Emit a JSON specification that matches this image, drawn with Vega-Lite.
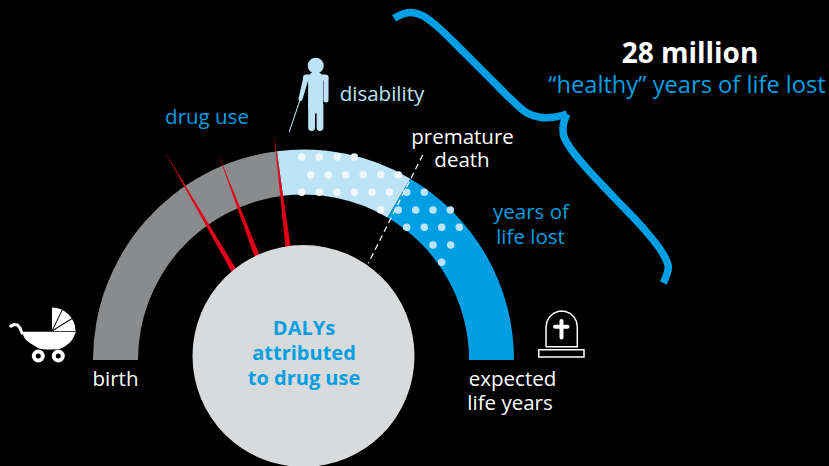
{
"$schema":"https://vega.github.io/schema/vega-lite/v6.json",
"width":829,"height":466,"padding":0,"autosize":{"type":"none"},"background":"#000000",
"config":{"view":{"stroke":null}},
"datasets":{
"arcs":[
{"part":"before","kind":"grey","x":303.5,"y":360,"t0":-90,"t1":-7.2,"r0":165.5,"r1":210.5},
{"part":"disability","kind":"sky","x":303.5,"y":360,"t0":-7.2,"t1":30.5,"r0":165.5,"r1":210.5},
{"part":"lost","kind":"blue","x":303.5,"y":360,"t0":30.5,"t1":90,"r0":165.5,"r1":210.5},
{"part":"head","kind":"sky","x":315.7,"y":65.7,"t0":-180,"t1":180,"r0":0,"r1":8},
{"part":"hood","kind":"white","x":52,"y":331,"t0":0,"t1":90,"r0":0,"r1":23.5}
],
"disc":[{"part":"disc","kind":"disc","x":303.5,"y":356,"t0":-180,"t1":180,"r0":0,"r1":111}],
"dots":[
{"kind":"pale","x":301.7,"y":157},{"kind":"pale","x":319.3,"y":157},{"kind":"pale","x":337,"y":157},{"kind":"pale","x":354.3,"y":157},
{"kind":"pale","x":310.7,"y":175},{"kind":"pale","x":328.3,"y":175},{"kind":"pale","x":345.7,"y":175},{"kind":"pale","x":363.3,"y":175},{"kind":"pale","x":380.7,"y":175},{"kind":"pale","x":398.3,"y":175},
{"kind":"pale","x":301.7,"y":192.3},{"kind":"pale","x":319.3,"y":192.3},{"kind":"pale","x":337,"y":192.3},{"kind":"pale","x":354.3,"y":192.3},{"kind":"pale","x":372,"y":192.3},{"kind":"pale","x":389.3,"y":192.3},
{"kind":"sky","x":406.7,"y":192.3},{"kind":"sky","x":424.3,"y":192.3},
{"kind":"pale","x":380.7,"y":210},{"kind":"sky","x":398.3,"y":210},{"kind":"sky","x":415.7,"y":210},{"kind":"sky","x":433,"y":210},{"kind":"sky","x":450.3,"y":210},
{"kind":"sky","x":406.7,"y":227.3},{"kind":"sky","x":424.3,"y":227.3},{"kind":"sky","x":441.7,"y":227.3},{"kind":"sky","x":459.3,"y":227.3},
{"kind":"sky","x":433,"y":245},{"kind":"sky","x":450.7,"y":245},
{"kind":"sky","x":441.7,"y":262.3}
],
"trails":[
{"seg":"w1","kind":"red","i":0,"x":166.7,"y":155,"w":0.2},{"seg":"w1","kind":"red","i":1,"x":236,"y":274,"w":5.5},
{"seg":"w2","kind":"red","i":0,"x":219.3,"y":156.7,"w":0.2},{"seg":"w2","kind":"red","i":1,"x":259,"y":261,"w":5.5},
{"seg":"w3","kind":"red","i":0,"x":274.3,"y":136.7,"w":0.2},{"seg":"w3","kind":"red","i":1,"x":288.7,"y":252,"w":5.5},
{"seg":"cane","kind":"sky","i":0,"x":300,"y":100,"w":1},{"seg":"cane","kind":"sky","i":1,"x":289.3,"y":131.7,"w":1},
{"seg":"shoulder","kind":"sky","i":0,"x":306,"y":77.5,"w":6},{"seg":"shoulder","kind":"sky","i":1,"x":325.5,"y":77.5,"w":6},
{"seg":"armL","kind":"sky","i":0,"x":306,"y":78,"w":5.5},{"seg":"armL","kind":"sky","i":1,"x":300.5,"y":99,"w":4},
{"seg":"armR","kind":"sky","i":0,"x":326,"y":78,"w":5},{"seg":"armR","kind":"sky","i":1,"x":326,"y":100,"w":5},
{"seg":"torso","kind":"sky","i":0,"x":315.6,"y":79,"w":15},{"seg":"torso","kind":"sky","i":1,"x":315.6,"y":106,"w":15},
{"seg":"legL","kind":"sky","i":0,"x":311.6,"y":106,"w":6.8},{"seg":"legL","kind":"sky","i":1,"x":311.6,"y":127.5,"w":6.8},
{"seg":"legR","kind":"sky","i":0,"x":320,"y":106,"w":6.8},{"seg":"legR","kind":"sky","i":1,"x":320,"y":127.5,"w":6.8},
{"seg":"rib1","kind":"black","i":0,"x":52,"y":331,"w":0.9},{"seg":"rib1","kind":"black","i":1,"x":62.7,"y":309,"w":0.9},
{"seg":"rib2","kind":"black","i":0,"x":52,"y":331,"w":0.9},{"seg":"rib2","kind":"black","i":1,"x":72,"y":318.5,"w":0.9},
{"seg":"handle","kind":"white","i":0,"x":22,"y":333,"w":3},{"seg":"handle","kind":"white","i":1,"x":20,"y":328,"w":3},{"seg":"handle","kind":"white","i":2,"x":17.5,"y":325,"w":3},{"seg":"handle","kind":"white","i":3,"x":14,"y":324.5,"w":3},{"seg":"handle","kind":"white","i":4,"x":11,"y":326,"w":3.5},
{"seg":"crossV","kind":"white","i":0,"x":561.5,"y":321,"w":4},{"seg":"crossV","kind":"white","i":1,"x":561.5,"y":337.5,"w":4},
{"seg":"crossH","kind":"white","i":0,"x":555,"y":326.7,"w":4},{"seg":"crossH","kind":"white","i":1,"x":567.5,"y":326.7,"w":4}
],
"brace":[
{"seg":"upper","kind":"blue","i":0,"x":394,"y":18.3},{"seg":"upper","kind":"blue","i":1,"x":403.3,"y":13.8},{"seg":"upper","kind":"blue","i":2,"x":413.3,"y":12.7},{"seg":"upper","kind":"blue","i":3,"x":423.3,"y":16},{"seg":"upper","kind":"blue","i":4,"x":436.7,"y":26},{"seg":"upper","kind":"blue","i":5,"x":453.3,"y":41.7},{"seg":"upper","kind":"blue","i":6,"x":473.3,"y":61.7},{"seg":"upper","kind":"blue","i":7,"x":493.3,"y":81.7},{"seg":"upper","kind":"blue","i":8,"x":510,"y":98.3},{"seg":"upper","kind":"blue","i":9,"x":526.7,"y":112.7},{"seg":"upper","kind":"blue","i":10,"x":540,"y":117.3},{"seg":"upper","kind":"blue","i":11,"x":553.3,"y":117.3},{"seg":"upper","kind":"blue","i":12,"x":567,"y":114},
{"seg":"lower","kind":"blue","i":0,"x":567,"y":114},{"seg":"lower","kind":"blue","i":1,"x":563.3,"y":125},{"seg":"lower","kind":"blue","i":2,"x":564,"y":136.7},{"seg":"lower","kind":"blue","i":3,"x":571.7,"y":150},{"seg":"lower","kind":"blue","i":4,"x":586.7,"y":168.3},{"seg":"lower","kind":"blue","i":5,"x":613.3,"y":196.7},{"seg":"lower","kind":"blue","i":6,"x":643.3,"y":228.3},{"seg":"lower","kind":"blue","i":7,"x":661.7,"y":251.7},{"seg":"lower","kind":"blue","i":8,"x":668.3,"y":266.7},{"seg":"lower","kind":"blue","i":9,"x":663.3,"y":283}
],
"dash":[{"kind":"white","i":0,"x":422.7,"y":155},{"kind":"white","i":1,"x":368.3,"y":263.3}],
"basket":[
{"kind":"white","x":21.7,"y":331.7,"y2":331.7},{"kind":"white","x":24,"y":331.7,"y2":337},{"kind":"white","x":28,"y":331.7,"y2":341.5},{"kind":"white","x":33.3,"y":331.7,"y2":345},{"kind":"white","x":38,"y":331.7,"y2":348},{"kind":"white","x":43.3,"y":331.7,"y2":349.3},{"kind":"white","x":50,"y":331.7,"y2":349.6},{"kind":"white","x":56.7,"y":331.7,"y2":349.3},{"kind":"white","x":62,"y":331.7,"y2":348},{"kind":"white","x":66.7,"y":331.7,"y2":345},{"kind":"white","x":72,"y":331.7,"y2":340},{"kind":"white","x":76,"y":331.7,"y2":331.7}
],
"wheels":[{"kind":"white","x":38.3,"y":356},{"kind":"white","x":58.3,"y":356}],
"stone":[
{"kind":"white","i":0,"x":546,"y":346.7},{"kind":"white","i":1,"x":546,"y":327},{"kind":"white","i":2,"x":547,"y":321.5},{"kind":"white","i":3,"x":549.5,"y":317},{"kind":"white","i":4,"x":553.5,"y":313.3},{"kind":"white","i":5,"x":558,"y":311.5},{"kind":"white","i":6,"x":561.7,"y":311},{"kind":"white","i":7,"x":565.5,"y":311.5},{"kind":"white","i":8,"x":570,"y":313.3},{"kind":"white","i":9,"x":574,"y":317},{"kind":"white","i":10,"x":576.4,"y":321.5},{"kind":"white","i":11,"x":577.3,"y":327},{"kind":"white","i":12,"x":577.3,"y":346.7},{"kind":"white","i":13,"x":546,"y":346.7}
],
"plinth":[{"kind":"white","x":538.8,"x2":584,"y":349.7,"y2":357}],
"labels":[
{"kind":"white","x":462.5,"y":143.5,"label":"premature"},
{"kind":"white","x":462,"y":167,"label":"death"},
{"kind":"sky","x":382,"y":101,"label":"disability"},
{"kind":"blue","x":207,"y":124,"label":"drug use"},
{"kind":"blue","x":531,"y":219,"label":"years of"},
{"kind":"blue","x":530.5,"y":244,"label":"life lost"},
{"kind":"white","x":115.5,"y":386,"label":"birth"},
{"kind":"white","x":512.5,"y":386,"label":"expected"},
{"kind":"white","x":510,"y":410,"label":"life years"}
],
"inner":[
{"kind":"blue","x":304,"y":335,"label":"DALYs"},
{"kind":"blue","x":304,"y":360,"label":"attributed"},
{"kind":"blue","x":304,"y":385,"label":"to drug use"}
],
"headline":[{"kind":"white","x":690,"y":63,"label":"28 million"}],
"subline":[{"kind":"blue","x":687,"y":93,"label":"“healthy” years of life lost"}]
},
"encoding":{
"x":{"field":"x","type":"quantitative","axis":null,"scale":{"domain":[0,829],"nice":false,"zero":false}},
"y":{"field":"y","type":"quantitative","axis":null,"scale":{"domain":[466,0],"nice":false,"zero":false}},
"color":{"field":"kind","type":"nominal","legend":null,"scale":{"domain":["grey","sky","blue","red","disc","white","pale","black"],"range":["#8a8b8c","#bde3f7","#009fe3","#e2001a","#d9dadb","#ffffff","#eef8fd","#000000"]}}
},
"layer":[
{"data":{"name":"arcs"},"mark":{"type":"arc"},"encoding":{
"theta":{"field":"t0","type":"quantitative","stack":null,"scale":{"domain":[-180,180],"range":[-3.14159265,3.14159265]}},
"theta2":{"field":"t1"},
"radius":{"field":"r1","type":"quantitative","scale":null},
"radius2":{"field":"r0"},
"detail":{"field":"part"}}},
{"data":{"name":"dots"},"mark":{"type":"point","filled":true,"opacity":1,"size":56}},
{"data":{"name":"dash"},"mark":{"type":"line","strokeWidth":1.2,"strokeDash":[6,4]},"encoding":{"order":{"field":"i"}}},
{"data":{"name":"trails"},"mark":{"type":"trail"},"encoding":{"detail":{"field":"seg"},"order":{"field":"i"},"size":{"field":"w","type":"quantitative","scale":null}}},
{"data":{"name":"disc"},"mark":{"type":"arc"},"encoding":{
"theta":{"field":"t0","type":"quantitative","stack":null,"scale":{"domain":[-180,180],"range":[-3.14159265,3.14159265]}},
"theta2":{"field":"t1"},
"radius":{"field":"r1","type":"quantitative","scale":null},
"radius2":{"field":"r0"}}},
{"data":{"name":"brace"},"mark":{"type":"line","strokeWidth":7.5,"interpolate":"catmull-rom","strokeCap":"butt"},"encoding":{"detail":{"field":"seg"},"order":{"field":"i"}}},
{"data":{"name":"basket"},"mark":{"type":"area","interpolate":"monotone"},"encoding":{"y2":{"field":"y2"}}},
{"data":{"name":"wheels"},"mark":{"type":"point","filled":false,"opacity":1,"size":81,"strokeWidth":4}},
{"data":{"name":"stone"},"mark":{"type":"line","strokeWidth":1.5},"encoding":{"order":{"field":"i"}}},
{"data":{"name":"plinth"},"mark":{"type":"rect","filled":false,"strokeWidth":1.5},"encoding":{"x2":{"field":"x2"},"y2":{"field":"y2"}}},
{"data":{"name":"labels"},"mark":{"type":"text","font":"Open Sans","fontSize":20.5,"align":"center","baseline":"alphabetic"},"encoding":{"text":{"field":"label"}}},
{"data":{"name":"inner"},"mark":{"type":"text","font":"Open Sans","fontSize":20,"fontWeight":"bold","align":"center","baseline":"alphabetic"},"encoding":{"text":{"field":"label"}}},
{"data":{"name":"headline"},"mark":{"type":"text","font":"Open Sans","fontSize":28,"fontWeight":"bold","align":"center","baseline":"alphabetic"},"encoding":{"text":{"field":"label"}}},
{"data":{"name":"subline"},"mark":{"type":"text","font":"Open Sans","fontSize":23.7,"align":"center","baseline":"alphabetic"},"encoding":{"text":{"field":"label"}}}
]
}
